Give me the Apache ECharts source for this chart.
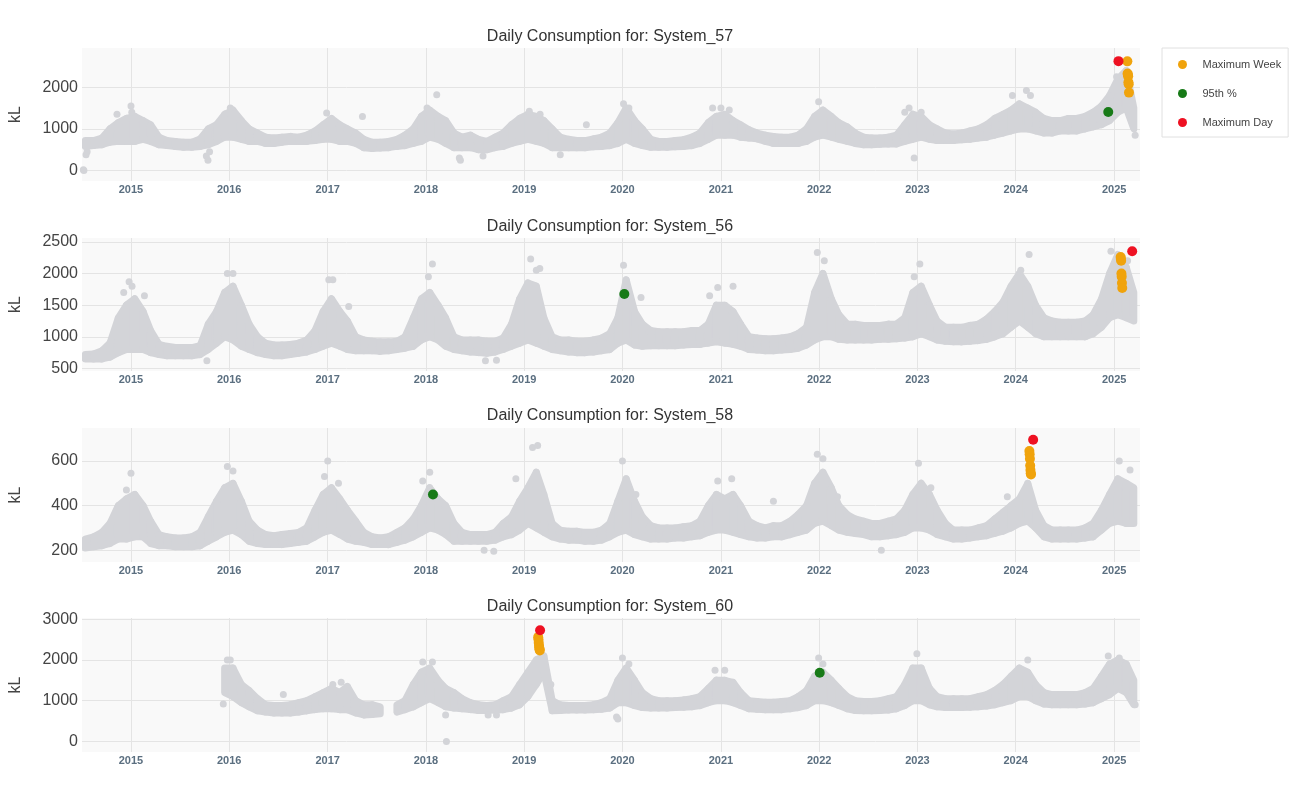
<!DOCTYPE html>
<html lang="en">
<head>
<meta charset="UTF-8">
<title>Daily Consumption</title>
<script src="https://cdn.jsdelivr.net/npm/echarts@6/dist/echarts.min.js"></script>
<style>
  body{margin:0;background:#fff;}
  #main{width:1301px;height:800px;}
</style>
</head>
<body>
<div id="main"></div>
<script>
// monthly low / high of the daily readings, one entry per month from Jul 2014 to Mar 2025
var lo57 = [580,600,620,680,700,700,
  700,750,700,620,600,580,560,560,580,620,700,800,
  800,750,700,700,650,650,680,700,700,700,720,750,
  750,700,700,650,550,530,540,550,580,600,650,700,
  800,750,650,550,550,550,500,500,550,580,650,700,
  750,700,650,550,550,550,550,550,570,580,600,650,
  750,650,600,560,560,560,570,580,600,650,750,850,
  850,850,800,780,760,700,650,650,650,650,700,800,
  850,800,750,700,650,620,620,630,640,640,700,750,
  800,750,720,720,720,740,750,780,800,850,900,950,
  1000,1000,950,900,900,950,950,950,1000,1050,1100,1200,
  1400,1500,1000];
var hi57 = [720,720,780,1000,1150,1250,
  1300,1200,1100,800,720,700,680,680,760,1000,1100,1350,
  1450,1200,1000,900,800,780,800,820,800,850,950,1100,
  1250,1100,1000,900,750,680,680,700,750,850,1000,1300,
  1450,1300,1200,900,800,850,750,700,800,900,1100,1250,
  1350,1300,1200,1000,800,750,720,720,760,800,900,1150,
  1500,1200,1000,750,700,700,720,740,800,900,1150,1300,
  1350,1200,1100,980,900,850,820,800,800,850,1000,1300,
  1450,1300,1150,1050,900,800,780,780,800,850,1100,1350,
  1300,1100,1000,900,880,900,950,1000,1100,1250,1350,1450,
  1600,1500,1400,1250,1200,1200,1250,1250,1300,1400,1550,1800,
  2200,2400,1500];

var lo56 = [650,650,650,680,750,800,
  800,800,750,720,700,700,700,700,720,800,900,1000,
  950,850,800,750,720,700,700,720,740,760,800,850,
  900,850,800,780,780,780,770,780,800,820,850,950,
  1000,950,850,800,780,760,750,740,760,800,850,900,
  950,900,850,800,780,760,750,750,760,780,800,900,
  950,870,850,860,860,860,860,870,880,880,900,920,
  900,880,850,800,790,780,780,790,800,820,870,950,
  1000,1000,960,950,950,950,950,960,960,970,980,1000,
  1050,1000,950,930,920,920,930,940,960,1000,1050,1150,
  1250,1150,1050,1000,1000,1000,1000,1000,1000,1050,1150,1300,
  1350,1300,1250];
var hi56 = [720,730,780,900,1300,1500,
  1600,1400,1100,880,850,830,830,830,860,1200,1400,1700,
  1800,1500,1200,1000,900,870,870,880,900,950,1100,1400,
  1600,1400,1250,1000,950,930,920,920,930,1000,1300,1600,
  1700,1500,1300,1000,950,950,950,930,930,980,1200,1600,
  1850,1800,1300,1000,950,950,930,930,950,980,1050,1300,
  1900,1400,1200,1100,1080,1080,1080,1080,1100,1100,1200,1500,
  1500,1400,1200,1000,980,970,970,980,1000,1050,1150,1700,
  2000,1600,1350,1200,1200,1180,1180,1180,1200,1200,1300,1700,
  1800,1500,1250,1150,1150,1150,1180,1200,1280,1400,1550,1800,
  2000,1800,1500,1300,1250,1230,1230,1230,1250,1350,1600,2000,
  2300,2100,1700];

var lo58 = [210,215,220,230,250,250,
  260,260,230,220,220,215,215,215,220,240,260,280,
  290,270,240,230,225,225,225,230,235,240,260,280,
  290,270,250,240,235,225,225,225,235,245,260,280,
  300,290,270,240,240,240,240,240,245,260,270,290,
  320,300,280,260,250,245,245,240,240,245,260,280,
  290,270,260,250,250,250,255,255,260,265,280,290,
  290,280,270,260,255,255,260,260,270,280,290,320,
  330,310,290,280,275,270,260,260,265,270,280,300,
  300,290,270,260,250,250,255,260,265,275,285,300,
  320,330,300,260,250,250,250,250,255,260,290,320,
  330,320,320];
var hi58 = [250,260,280,320,400,430,
  450,400,330,270,260,255,255,260,280,350,420,480,
  500,420,330,290,270,265,270,275,280,300,380,450,
  480,430,380,330,280,260,255,260,280,300,340,400,
  480,430,400,320,280,270,270,270,280,320,350,420,
  480,550,450,320,290,285,285,280,280,290,320,420,
  520,420,350,310,300,300,300,305,310,330,400,450,
  430,450,400,330,310,300,310,310,330,360,400,500,
  550,480,400,360,340,330,320,320,330,340,380,450,
  500,450,380,320,290,290,290,300,310,340,370,400,
  430,500,380,310,290,290,290,290,300,320,380,450,
  520,500,480];

var lo60 = [null,null,null,null,null,null,
  null,null,null,null,null,null,null,null,null,null,null,1200,
  1100,950,850,750,720,700,700,700,720,750,780,800,
  800,780,780,700,650,660,680,null,720,780,850,950,
  1050,950,850,820,800,780,760,760,770,780,820,900,
  1100,1400,1700,750,760,770,770,770,780,790,820,950,
  950,880,830,820,820,820,830,840,850,880,950,1000,
  1000,950,880,800,790,780,780,780,800,830,880,1000,
  1000,950,880,800,760,750,750,760,770,800,880,1000,
  1000,900,850,830,830,830,840,850,870,900,950,1000,
  1100,1100,1000,920,900,900,900,900,920,950,1050,1150,
  1300,1200,900];
var hi60 = [null,null,null,null,null,null,
  null,null,null,null,null,null,null,null,null,null,null,1800,
  1800,1400,1250,1050,900,880,880,900,950,1000,1100,1200,
  1300,1200,1350,1000,900,900,850,null,900,1000,1400,1700,
  1800,1500,1300,1200,1050,950,900,880,900,1000,1100,1400,
  1700,2000,2100,1000,900,880,880,880,900,950,1050,1500,
  1800,1500,1200,1050,1000,1000,1000,1020,1050,1100,1300,1500,
  1500,1450,1200,1000,980,960,960,980,1000,1100,1250,1600,
  1700,1500,1300,1100,1000,980,980,1000,1050,1100,1400,1800,
  1800,1300,1100,1050,1050,1050,1050,1100,1150,1250,1400,1600,
  1800,1700,1400,1200,1150,1150,1150,1150,1200,1300,1600,1900,
  2000,1900,1500];

// single days standing clear of the band
var spikes57 = [['2014-07-08',20],['2014-07-10',0],['2014-07-18',380],['2014-07-22',450],['2014-11-10',1350],
  ['2015-01-01',1550],['2015-01-04',1400],['2015-10-08',350],['2015-10-14',250],['2015-10-20',450],
  ['2016-01-05',1500],['2016-12-28',1380],['2017-05-10',1300],['2018-01-05',1500],['2018-02-10',1820],
  ['2018-05-05',300],['2018-05-09',250],['2018-08-01',350],['2019-01-20',1420],['2019-03-01',1350],
  ['2019-05-15',380],['2019-08-20',1100],['2020-01-05',1600],['2020-01-25',1500],['2020-12-01',1500],
  ['2021-01-01',1500],['2021-02-01',1450],['2021-12-30',1650],['2022-11-15',1400],['2022-12-01',1500],
  ['2022-12-20',300],['2023-01-15',1400],['2023-12-20',1800],['2024-02-10',1920],['2024-02-25',1800],
  ['2024-12-20',1800],['2025-01-10',2250],['2025-03-20',850]];
var spikes56 = [['2014-12-05',1700],['2014-12-25',1870],['2015-01-05',1800],['2015-02-20',1650],['2015-10-10',620],
  ['2015-12-25',2000],['2016-01-15',2000],['2017-01-05',1900],['2017-01-20',1900],['2017-03-20',1480],
  ['2018-01-10',1950],['2018-01-25',2150],['2018-08-10',620],['2018-09-20',630],['2019-01-25',2230],
  ['2019-02-15',2050],['2019-02-28',2080],['2020-01-05',2130],['2020-03-10',1620],['2020-11-20',1650],
  ['2020-12-20',1780],['2021-02-15',1800],['2021-12-25',2330],['2022-01-20',2200],['2022-12-20',1950],
  ['2023-01-10',2150],['2024-01-20',2050],['2024-02-20',2300],['2024-12-20',2350],['2025-02-20',2200]];
var spikes58 = [['2014-12-15',470],['2015-01-01',545],['2015-12-25',575],['2016-01-15',555],['2016-12-20',530],
  ['2017-01-01',600],['2017-02-10',500],['2017-12-20',510],['2018-01-15',550],['2018-08-05',200],
  ['2018-09-10',195],['2018-12-01',520],['2019-02-01',660],['2019-02-20',670],['2020-01-01',600],
  ['2020-02-20',450],['2020-12-20',510],['2021-02-10',520],['2021-07-15',420],['2021-12-25',630],
  ['2022-01-15',610],['2022-03-10',440],['2022-08-20',200],['2023-01-05',590],['2023-02-20',480],
  ['2023-12-01',440],['2025-01-20',600],['2025-03-01',560]];
var spikes60 = [['2015-12-10',920],['2015-12-25',2000],['2016-01-05',2000],['2016-07-20',1150],['2017-01-20',1400],
  ['2017-02-20',1450],['2017-12-20',1950],['2018-01-25',1950],['2018-03-15',650],['2018-03-18',0],
  ['2018-08-20',650],['2018-09-20',650],['2019-04-10',1400],['2019-12-10',600],['2019-12-15',550],
  ['2020-01-01',2050],['2020-01-25',1900],['2020-12-10',1750],['2021-01-15',1750],['2021-12-30',2050],
  ['2022-01-15',1900],['2022-12-30',2150],['2023-01-20',1700],['2024-02-15',2000],['2024-12-10',2100],
  ['2025-01-20',2050],['2025-03-20',900]];

// highlighted days
var week57 = [['2025-02-19',2620],['2025-02-20',2330],['2025-02-21',2300],['2025-02-22',2260],['2025-02-23',2120],['2025-02-24',2070],['2025-02-25',1870]];
var week56 = [['2025-01-25',2260],['2025-01-26',2230],['2025-01-27',2200],['2025-01-28',2000],['2025-01-29',1950],['2025-01-30',1850],['2025-01-31',1770]];
var week58 = [['2024-02-21',645],['2024-02-22',630],['2024-02-23',610],['2024-02-24',580],['2024-02-25',560],['2024-02-26',545],['2024-02-27',540]];
var week60 = [['2019-02-22',2560],['2019-02-23',2500],['2019-02-24',2420],['2019-02-25',2350],['2019-02-26',2300],['2019-02-27',2260],['2019-02-28',2230]];
var p95_57 = [['2024-12-10',1405]];
var p95_56 = [['2020-01-08',1675]];
var p95_58 = [['2018-01-27',450]];
var p95_60 = [['2022-01-03',1685]];
var day57 = [['2025-01-17',2625]];
var day56 = [['2025-03-09',2350]];
var day58 = [['2024-03-06',695]];
var day60 = [['2019-03-01',2730]];

var systems = ['System_57','System_56','System_58','System_60'];
var years = [2015,2016,2017,2018,2019,2020,2021,2022,2023,2024,2025];

var GREY = '#d3d4d8';
var FONT = 'Liberation Sans, Arial, sans-serif';

function monthDate(i){ return Date.UTC(2014, 6 + i, 15); }
function toTime(s){ var a = s.split('-'); return Date.UTC(+a[0], +a[1] - 1, +a[2]); }
function points(list){ return list.map(function(d){ return [toTime(d[0]), d[1]]; }); }

function bandSegments(lo, hi){
    var out = [];
    for (var i = 0; i < lo.length - 1; i++) {
        if (lo[i] == null || lo[i+1] == null) continue;
        out.push([monthDate(i), lo[i], hi[i], monthDate(i+1), lo[i+1], hi[i+1]]);
    }
    return out;
}

function renderBand(params, api){
    var a = api.coord([api.value(0), api.value(1)]);
    var b = api.coord([api.value(0), api.value(2)]);
    var c = api.coord([api.value(3), api.value(5)]);
    var d = api.coord([api.value(3), api.value(4)]);
    return {type: 'polygon', shape: {points: [a, b, c, d]},
        style: {fill: GREY, stroke: GREY, lineWidth: 7, lineJoin: 'round'}};
}

var panels = [
    {lo: lo57, hi: hi57, extra: spikes57, week: week57, p95: p95_57, day: day57},
    {lo: lo56, hi: hi56, extra: spikes56, week: week56, p95: p95_56, day: day56},
    {lo: lo58, hi: hi58, extra: spikes58, week: week58, p95: p95_58, day: day58},
    {lo: lo60, hi: hi60, extra: spikes60, week: week60, p95: p95_60, day: day60}
];
// layout of each subplot
var layout = [
    {top: 48, height: 133, min: -250, max: 2940, ticks: [0,1000,2000], titleTop: 29},
    {top: 238, height: 133, min: 460, max: 2560, ticks: [500,1000,1500,2000,2500], titleTop: 219},
    {top: 428, height: 134, min: 147, max: 748, ticks: [200,400,600], titleTop: 408},
    {top: 618, height: 134, min: -260, max: 3030, ticks: [0,1000,2000,3000], titleTop: 599}
];

var yearTicks = years.map(function(y){ return Date.UTC(y, 0, 1); });

var option = {
    animation: false,
    backgroundColor: '#fff',
    title: [], grid: [], xAxis: [], yAxis: [], series: [],
    legend: {
        left: 1162, top: 48, orient: 'vertical',
        padding: [11, 7, 9, 16], itemGap: 18,
        itemWidth: 30, itemHeight: 9, icon: 'circle',
        borderColor: '#e0e0e0', borderWidth: 1,
        textStyle: {fontFamily: FONT, fontSize: 11, color: '#444'},
        data: ['Maximum Week', '95th %', 'Maximum Day']
    }
};

panels.forEach(function(p, k){
    var L = layout[k];
    option.title.push({text: 'Daily Consumption for: ' + systems[k], left: 610, top: L.titleTop,
        textAlign: 'center', padding: 0,
        textStyle: {fontFamily: FONT, fontSize: 16, fontWeight: 'normal', color: '#333'}});
    option.grid.push({left: 80, width: 1060, top: L.top, height: L.height,
        show: true, backgroundColor: '#f9f9f9', borderWidth: 0});
    option.xAxis.push({type: 'value', gridIndex: k,
        min: Date.UTC(2014, 6, 3), max: Date.UTC(2025, 3, 7),
        axisLine: {show: false}, axisTick: {show: false, customValues: yearTicks},
        axisLabel: {customValues: yearTicks, margin: 3,
            formatter: function(v){ return String(new Date(v).getUTCFullYear()); },
            fontFamily: FONT, fontSize: 11, fontWeight: 'bold', color: '#5b6f80'},
        splitLine: {show: true, lineStyle: {color: '#e4e4e4', width: 1}}});
    option.yAxis.push({type: 'value', gridIndex: k, min: L.min, max: L.max,
        name: 'kL', nameLocation: 'middle', nameGap: 58,
        nameTextStyle: {fontFamily: FONT, fontSize: 16, color: '#444'},
        axisLine: {show: false}, axisTick: {show: false, customValues: L.ticks},
        axisLabel: {customValues: L.ticks, margin: 4, fontFamily: FONT, fontSize: 16, color: '#444',
            formatter: function(v){ return String(v); }},
        splitLine: {show: true, lineStyle: {color: '#e4e4e4', width: 1}}});

    option.series.push({type: 'custom', xAxisIndex: k, yAxisIndex: k, clip: true, z: 1,
        renderItem: renderBand, encode: {x: [0, 3], y: [1, 2, 4, 5]},
        data: bandSegments(p.lo, p.hi), silent: true});
    option.series.push({type: 'scatter', xAxisIndex: k, yAxisIndex: k, z: 2, symbolSize: 7,
        itemStyle: {color: GREY, opacity: 1}, data: points(p.extra), silent: true});
    option.series.push({name: 'Maximum Week', type: 'scatter', xAxisIndex: k, yAxisIndex: k, z: 3,
        symbolSize: 10, itemStyle: {color: '#f0a30c', opacity: 1}, data: points(p.week)});
    option.series.push({name: '95th %', type: 'scatter', xAxisIndex: k, yAxisIndex: k, z: 3,
        symbolSize: 10, itemStyle: {color: '#177a17', opacity: 1}, data: points(p.p95)});
    option.series.push({name: 'Maximum Day', type: 'scatter', xAxisIndex: k, yAxisIndex: k, z: 4,
        symbolSize: 10, itemStyle: {color: '#ee1122', opacity: 1}, data: points(p.day)});
});

var myChart = echarts.init(document.getElementById('main'));
myChart.setOption(option);
</script>
</body>
</html>
